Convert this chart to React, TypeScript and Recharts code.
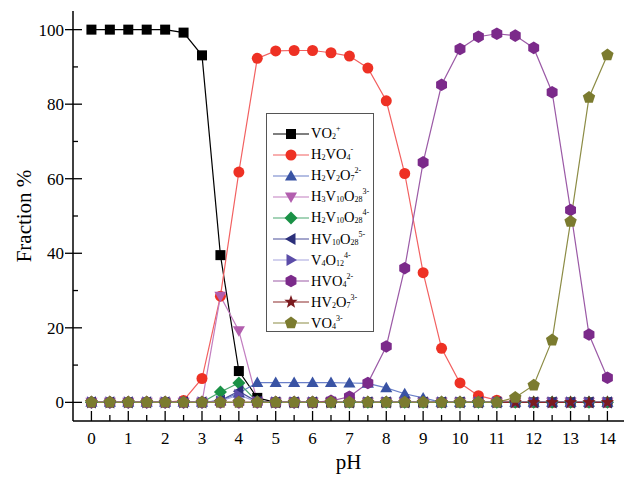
import React from 'react';
import { LineChart, Line, XAxis, YAxis } from 'recharts';

const PH = [0, 0.5, 1, 1.5, 2, 2.5, 3, 3.5, 4, 4.5, 5, 5.5, 6, 6.5, 7, 7.5, 8, 8.5, 9, 9.5, 10, 10.5, 11, 11.5, 12, 12.5, 13, 13.5, 14];

const VO2 = [100, 100, 100, 100, 100, 99.2, 93.1, 39.5, 8.4, 1.2, 0, 0, 0, 0, 0, 0, 0, 0, 0, 0, 0, 0, 0, 0, 0, 0, 0, 0, 0];
const H2VO4 = [0, 0, 0, 0, 0, 0.5, 6.4, 28.5, 61.8, 92.3, 94.3, 94.4, 94.4, 93.8, 92.9, 89.7, 80.9, 61.4, 34.8, 14.5, 5.2, 1.8, 0.6, 0, 0, 0, 0, 0, 0];
const H2V2O7 = [0, 0, 0, 0, 0, 0, 0, 0.4, 2.5, 5.3, 5.3, 5.3, 5.3, 5.3, 5.2, 5.1, 3.9, 2.3, 1.2, 0, 0, 0, 0, 0, 0, 0, 0, 0, 0];
const H3V10O28 = [0, 0, 0, 0, 0, 0, 0, 28.5, 19.2, 0.3, 0, 0, 0, 0, 0, 0, 0, 0, 0, 0, 0, 0, 0, 0, 0, 0, 0, 0, 0];
const H2V10O28 = [0, 0, 0, 0, 0, 0, 0, 2.8, 5.2, 0.2, 0, 0, 0, 0, 0, 0, 0, 0, 0, 0, 0, 0, 0, 0, 0, 0, 0, 0, 0];
const HV10O28 = [0, 0, 0, 0, 0, 0, 0, 0.5, 3.0, 0.1, 0, 0, 0, 0, 0, 0, 0, 0, 0, 0, 0, 0, 0, 0, 0, 0, 0, 0, 0];
const V4O12 = [0, 0, 0, 0, 0, 0, 0, 0.3, 2.0, 0.1, 0, 0, 0, 0, 0, 0, 0, 0, 0, 0, 0, 0, 0, 0, 0, 0, 0, 0, 0];
const HVO4 = [0, 0, 0, 0, 0, 0, 0, 0, 0, 0, 0, 0, 0, 0.4, 1.5, 5.2, 15, 36, 64.4, 85.2, 94.8, 98.1, 98.9, 98.4, 95.1, 83.2, 51.6, 18.2, 6.6];
const HV2O7 = [0, 0, 0, 0, 0, 0, 0, 0, 0, 0, 0, 0, 0, 0, 0, 0, 0, 0, 0, 0, 0, 0, 0, 0, 0, 0, 0, 0, 0];
const VO4 = [0, 0, 0, 0, 0, 0, 0, 0, 0, 0, 0, 0, 0, 0, 0, 0, 0, 0, 0, 0, 0, 0, 0, 1.3, 4.6, 16.7, 48.5, 81.8, 93.2];

const Y_TICKS = [0, 10, 20, 30, 40, 50, 60, 70, 80, 90, 100];

const FONT = '"Liberation Serif", "Times New Roman", serif';

type Shape = 'square' | 'circle' | 'up' | 'down' | 'diamond' | 'left' | 'right' | 'hexagon' | 'star' | 'pentagon';

interface SeriesDef {
  key: string;
  values: number[];
  shape: Shape;
  fill: string;
  stroke: string;
  label: React.ReactNode;
}

const SERIES: SeriesDef[] = [
  { key: 'VO2', values: VO2, shape: 'square', fill: '#000000', stroke: '#000000', label: <>VO<sub>2</sub><sup>+</sup></> },
  { key: 'H2VO4', values: H2VO4, shape: 'circle', fill: '#ee3124', stroke: '#f26060', label: <>H<sub>2</sub>VO<sub>4</sub><sup>-</sup></> },
  { key: 'H2V2O7', values: H2V2O7, shape: 'up', fill: '#3953a4', stroke: '#6a7fc8', label: <>H<sub>2</sub>V<sub>2</sub>O<sub>7</sub><sup>2-</sup></> },
  { key: 'H3V10O28', values: H3V10O28, shape: 'down', fill: '#b25eae', stroke: '#c27ec0', label: <>H<sub>3</sub>V<sub>10</sub>O<sub>28</sub><sup>3-</sup></> },
  { key: 'H2V10O28', values: H2V10O28, shape: 'diamond', fill: '#1a9146', stroke: '#4aa870', label: <>H<sub>2</sub>V<sub>10</sub>O<sub>28</sub><sup>4-</sup></> },
  { key: 'HV10O28', values: HV10O28, shape: 'left', fill: '#2b2f7a', stroke: '#4a4e99', label: <>HV<sub>10</sub>O<sub>28</sub><sup>5-</sup></> },
  { key: 'V4O12', values: V4O12, shape: 'right', fill: '#5b4ca8', stroke: '#a6a3dd', label: <>V<sub>4</sub>O<sub>12</sub><sup>4-</sup></> },
  { key: 'HVO4', values: HVO4, shape: 'hexagon', fill: '#7b2a8a', stroke: '#9b5aa6', label: <>HVO<sub>4</sub><sup>2-</sup></> },
  { key: 'HV2O7', values: HV2O7, shape: 'star', fill: '#7a1a1f', stroke: '#8b2a2a', label: <>HV<sub>2</sub>O<sub>7</sub><sup>3-</sup></> },
  { key: 'VO4', values: VO4, shape: 'pentagon', fill: '#7b7b2f', stroke: '#8c8c45', label: <>VO<sub>4</sub><sup>3-</sup></> },
];

const data = PH.map((ph, i) => {
  const row: Record<string, number> = { pH: ph };
  SERIES.forEach((s) => {
    row[s.key] = s.values[i];
  });
  return row;
});

function polygon(cx: number, cy: number, n: number, r: number, rot: number, inner?: number) {
  const pts: string[] = [];
  const count = inner ? n * 2 : n;
  for (let i = 0; i < count; i++) {
    const a = rot + (i * 2 * Math.PI) / count;
    const rr = inner && i % 2 === 1 ? inner : r;
    pts.push(`${cx + rr * Math.cos(a)},${cy + rr * Math.sin(a)}`);
  }
  return pts.join(' ');
}

function Marker({ shape, cx, cy, fill }: { shape: Shape; cx: number; cy: number; fill: string }) {
  const up = -Math.PI / 2;
  switch (shape) {
    case 'square':
      return <rect x={cx - 5} y={cy - 5} width={10} height={10} fill={fill} />;
    case 'circle':
      return <circle cx={cx} cy={cy} r={5.5} fill={fill} />;
    case 'up':
      return <polygon points={polygon(cx, cy + 1, 3, 7, up)} fill={fill} />;
    case 'down':
      return <polygon points={polygon(cx, cy - 1, 3, 7, Math.PI / 2)} fill={fill} />;
    case 'diamond':
      return <polygon points={polygon(cx, cy, 4, 6.5, up)} fill={fill} />;
    case 'left':
      return <polygon points={polygon(cx + 1, cy, 3, 7, Math.PI)} fill={fill} />;
    case 'right':
      return <polygon points={polygon(cx - 1, cy, 3, 7, 0)} fill={fill} />;
    case 'hexagon':
      return <polygon points={polygon(cx, cy, 6, 6.3, up)} fill={fill} />;
    case 'star':
      return <polygon points={polygon(cx, cy, 5, 7, up, 2.9)} fill={fill} />;
    case 'pentagon':
    default:
      return <polygon points={polygon(cx, cy, 5, 6.5, up)} fill={fill} />;
  }
}

function XTick(props: any) {
  const { x, y, payload } = props;
  const v = payload.value as number;
  const major = Number.isInteger(v);
  return (
    <g>
      <line x1={x} x2={x} y1={y} y2={y - (major ? 10 : 6)} stroke="#000" strokeWidth={1.3} />
      {major && (
        <text x={x} y={y + 23} textAnchor="middle" fontSize={17} fontFamily={FONT} fill="#000">
          {v}
        </text>
      )}
    </g>
  );
}

function YTick(props: any) {
  const { x, y, payload } = props;
  const v = payload.value as number;
  const major = v % 20 === 0;
  return (
    <g>
      <line x1={major ? x - 8 : x} x2={x + (major ? 9 : 5)} y1={y} y2={y} stroke="#000" strokeWidth={1.3} />
      {major && (
        <text x={x - 9} y={y + 6} textAnchor="end" fontSize={17} fontFamily={FONT} fill="#000">
          {v}
        </text>
      )}
    </g>
  );
}

function XTitle(props: any) {
  const vb = props.viewBox ?? { x: 73, y: 421, width: 551, height: 60 };
  return (
    <text x={vb.x + vb.width / 2} y={vb.y + 48} textAnchor="middle" fontSize={21} fontFamily={FONT} fill="#000">
      pH
    </text>
  );
}

function YTitle(props: any) {
  const vb = props.viewBox ?? { x: 0, y: 11, width: 73, height: 410 };
  const cx = 24;
  const cy = vb.y + vb.height / 2;
  return (
    <text
      x={cx}
      y={cy}
      transform={`rotate(-90 ${cx} ${cy})`}
      textAnchor="middle"
      dominantBaseline="central"
      fontSize={21}
      fontFamily={FONT}
      fill="#000"
    >
      Fraction %
    </text>
  );
}

function LegendBox() {
  return (
    <div
      style={{
        position: 'absolute',
        left: 266,
        top: 113,
        width: 108,
        height: 219,
        boxSizing: 'border-box',
        border: '1px solid #555',
        background: '#fff',
        fontFamily: FONT,
        fontSize: 14.5,
        paddingTop: 9,
      }}
    >
      {SERIES.map((s) => (
        <div key={s.key} style={{ display: 'flex', alignItems: 'center', height: 21.1, whiteSpace: 'nowrap' }}>
          <svg width={39} height={16} style={{ marginLeft: 5, flex: 'none' }}>
            <line x1={1} x2={37} y1={8} y2={8} stroke={s.stroke} strokeWidth={1.2} />
            <Marker shape={s.shape} cx={19} cy={8} fill={s.fill} />
          </svg>
          <span className="lg" style={{ lineHeight: '15px' }}>
            {s.label}
          </span>
        </div>
      ))}
      <style>{`.lg sub{font-size:8px;vertical-align:-1px;line-height:0}.lg sup{font-size:8px;vertical-align:7px;line-height:0}`}</style>
    </div>
  );
}

export default function App() {
  return (
    <div style={{ position: 'absolute', left: 0, top: 0, width: 625, height: 481, background: '#fff' }}>
      <LineChart width={625} height={481} data={data} margin={{ top: 11, right: 1, bottom: 0, left: 0 }}>
        <XAxis
          dataKey="pH"
          type="number"
          domain={[-0.5, 14.45]}
          ticks={PH}
          interval={0}
          allowDataOverflow
          height={60}
          tickLine={false}
          tickSize={0}
          tickMargin={0}
          tick={XTick}
          axisLine={{ stroke: '#000', strokeWidth: 1.5 }}
          label={XTitle}
        />
        <XAxis
          xAxisId="top"
          orientation="top"
          dataKey="pH"
          type="number"
          domain={[-0.5, 14.45]}
          height={0}
          tick={false}
          tickLine={false}
          axisLine={{ stroke: '#000', strokeWidth: 2 }}
        />
        <YAxis
          type="number"
          domain={[-5, 105]}
          ticks={Y_TICKS}
          interval={0}
          allowDataOverflow
          width={73}
          tickLine={false}
          tickSize={0}
          tickMargin={0}
          tick={YTick}
          axisLine={{ stroke: '#000', strokeWidth: 1.5 }}
          label={YTitle}
        />
        <YAxis
          yAxisId="right"
          orientation="right"
          domain={[-5, 105]}
          width={0}
          tick={false}
          tickLine={false}
          axisLine={{ stroke: '#000', strokeWidth: 1.2 }}
        />
        {SERIES.map((s) => (
          <Line
            key={s.key}
            dataKey={s.key}
            type="linear"
            stroke={s.stroke}
            strokeWidth={1.2}
            isAnimationActive={false}
            activeDot={false}
            dot={(p: any) => <Marker key={`${s.key}-${p.index}`} shape={s.shape} cx={p.cx} cy={p.cy} fill={s.fill} />}
          />
        ))}
      </LineChart>
      <LegendBox />
    </div>
  );
}
